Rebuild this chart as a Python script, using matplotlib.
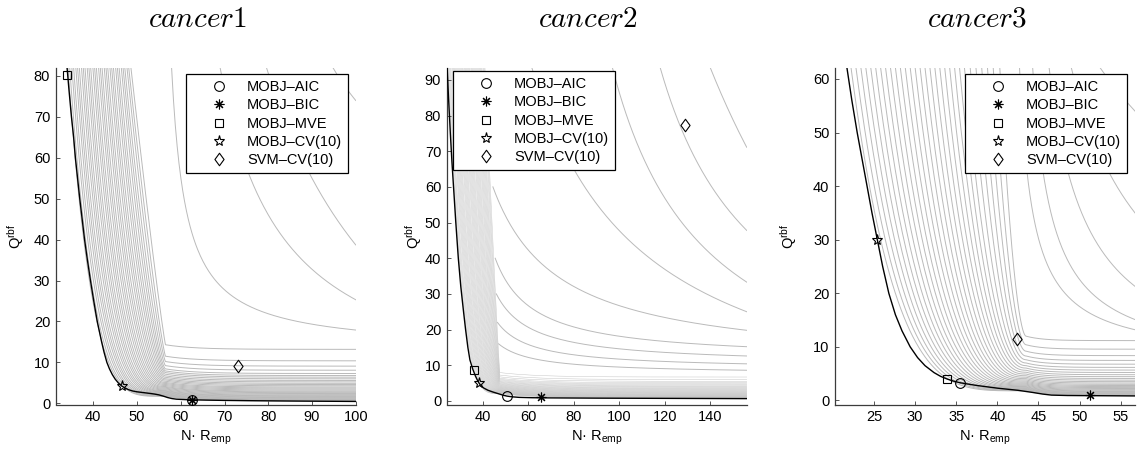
import numpy as np
import matplotlib
matplotlib.use("Agg")
import matplotlib.pyplot as plt
from matplotlib.path import Path

plt.rcParams['font.family'] = ['Liberation Sans', 'DejaVu Sans']
plt.rcParams['font.size'] = 10.5
plt.rcParams['mathtext.fontset'] = 'custom'
plt.rcParams['mathtext.rm'] = 'Liberation Sans'
plt.rcParams['mathtext.it'] = 'Liberation Sans:italic'

TITLES = ['cancer1', 'cancer2', 'cancer3']
LABELS = ['MOBJ\u2013AIC', 'MOBJ\u2013BIC', 'MOBJ\u2013MVE', 'MOBJ\u2013CV(10)', 'SVM\u2013CV(10)']

# ---- cancer1 ----
xlim1 = (31.4, 100.0)
ylim1 = (-0.3, 82.0)
xticks1 = [40, 50, 60, 70, 80, 90, 100]
yticks1 = [0, 10, 20, 30, 40, 50, 60, 70, 80]
front1_x = [34.0, 34.4, 35.0, 35.5, 35.9, 36.4, 36.9, 37.45, 38.0, 38.65, 39.35, 40.1,
            40.9, 41.9, 42.45, 43.1, 43.7, 44.35, 45.0, 45.7, 46.5, 47.3, 48.1, 49.0,
            50.0, 51.5, 53.0, 54.0, 55.0, 56.0, 57.0, 58.0, 59.0, 60.5, 62.0, 66.0,
            70.0, 77.0, 85.0, 92.0, 100.0]
front1_y = [82.0, 77.0, 70.0, 65.0, 60.0, 55.0, 50.0, 45.0, 40.0, 35.0, 30.0, 25.0,
            20.0, 15.0, 12.5, 10.0, 8.4, 7.0, 5.9, 5.0, 4.2, 3.7, 3.3, 3.0,
            2.8, 2.6, 2.4, 2.25, 2.05, 1.75, 1.4, 1.15, 1.0, 0.92, 0.85, 0.77,
            0.7, 0.62, 0.55, 0.5, 0.45]
wall1 = 56.5
fan1_top = [34.2, 34.6, 35.1, 35.5, 36.0, 36.4, 36.8, 37.3, 37.7, 38.1, 38.6, 39.0,
            39.4, 39.9, 40.3, 40.7, 41.2, 41.6, 42.0, 42.5, 42.9, 43.3, 43.8, 44.2,
            44.6, 45.1, 45.5, 45.9, 46.4, 46.8, 47.2, 47.7, 48.1, 48.6]
fan1_h = [1.7, 1.8, 1.9, 2.0, 2.1, 2.2, 2.35, 2.5, 2.65, 2.8, 2.95, 3.1, 3.3, 3.5,
          3.7, 3.9, 4.1, 4.35, 4.6, 4.85, 5.1, 5.4, 5.7, 6.0, 6.35, 6.7, 7.1, 7.5,
          7.9, 8.4, 9.2, 10.2, 11.5, 14.3]
# arcs: (x_start, y_start, x_mid, y_mid, y_at_right_edge)
arcs1 = [(57.9, 82.0, 61.5, 46.0, 17.9),
         (69.0, 82.0, 85.8, 37.3, 25.3),
         (79.6, 82.0, 90.0, 55.0, 38.7),
         (94.8, 82.0, 97.5, 77.5, 74.0)]
# AIC, BIC, MVE, CV(10), SVM
sel1_x = [62.6, 62.6, 34.0, 46.5, 73.1]
sel1_y = [0.85, 0.85, 80.3, 4.3, 9.1]

# ---- cancer2 ----
xlim2 = (24.2, 156.0)
ylim2 = (-1.0, 93.4)
xticks2 = [40, 60, 80, 100, 120, 140]
yticks2 = [0, 10, 20, 30, 40, 50, 60, 70, 80, 90]
front2_x = [24.4, 25.0, 25.8, 26.5, 27.2, 28.2, 29.3, 30.4, 31.6, 32.5, 33.5, 34.4,
            35.6, 36.8, 37.7, 38.5, 39.4, 40.5, 42.3, 44.5, 47.0, 49.0, 50.7, 53.0,
            56.0, 62.0, 70.0, 90.0, 120.0, 156.0]
front2_y = [93.4, 85.0, 75.0, 67.0, 60.0, 50.0, 40.0, 32.0, 25.0, 20.0, 15.0, 11.5,
            9.0, 7.0, 5.8, 4.9, 4.2, 3.6, 3.0, 2.5, 2.0, 1.6, 1.35, 1.15,
            1.0, 0.9, 0.85, 0.78, 0.72, 0.65]
wall2 = 47.5
fan2_top = [24.8, 25.2, 25.6, 26.0, 26.5, 26.9, 27.3, 27.7, 28.1, 28.5, 28.9, 29.4,
            29.8, 30.2, 30.6, 31.0, 31.4, 31.9, 32.3, 32.7, 33.1, 33.5, 33.9, 34.3,
            34.8, 35.2, 35.6, 36.0, 36.4, 36.8, 37.3, 37.7, 38.1, 38.5, 38.9, 39.3,
            39.7, 40.2, 40.6, 41.0]
fan2_h = [2.05, 2.1, 2.15, 2.2, 2.25, 2.3, 2.35, 2.41, 2.47, 2.53, 2.6, 2.67, 2.75,
          2.83, 2.91, 3.0, 3.09, 3.19, 3.29, 3.4, 3.51, 3.63, 3.75, 3.88, 4.01, 4.15,
          4.3, 4.45, 4.61, 4.78, 4.95, 5.15, 5.35, 5.55, 5.8, 6.05, 6.35, 6.75, 7.25, 7.95]
arcs2 = [(47.0, 16.0, 70.0, 11.0, 8.6),
         (46.5, 22.0, 70.0, 14.0, 10.4),
         (46.0, 30.0, 70.0, 18.0, 12.6),
         (45.5, 40.0, 70.0, 23.0, 15.2),
         (44.5, 60.0, 75.0, 34.0, 19.8),
         (61.6, 93.4, 109.2, 42.2, 25.0),
         (97.0, 93.4, 138.5, 42.2, 33.3),
         (118.0, 93.4, 135.0, 66.0, 47.8),
         (140.0, 93.4, 148.0, 81.5, 71.1)]
sel2_x = [50.7, 65.5, 36.0, 38.5, 129.1]
sel2_y = [1.4, 1.0, 8.7, 4.9, 77.3]

# ---- cancer3 ----
xlim3 = (20.25, 56.75)
ylim3 = (-0.75, 62.1)
xticks3 = [25, 30, 35, 40, 45, 50, 55]
yticks3 = [0, 10, 20, 30, 40, 50, 60]
front3_x = [21.7, 22.3, 22.95, 23.55, 24.15, 24.75, 25.4, 26.05, 26.8, 27.6, 28.4,
            29.4, 30.3, 31.2, 32.3, 33.1, 33.9, 34.7, 35.5, 37.5, 40.0, 42.5, 44.3,
            45.5, 46.6, 48.5, 51.3, 56.75]
front3_y = [62.1, 56.0, 50.0, 45.0, 40.0, 35.0, 30.0, 25.0, 20.0, 16.0, 13.0,
            10.0, 8.0, 6.5, 5.2, 4.5, 4.0, 3.6, 3.3, 2.8, 2.3, 1.9, 1.5,
            1.2, 1.0, 0.93, 0.9, 0.85]
wall3 = 43.5
fan3_top = [22.2, 22.8, 23.4, 24.0, 24.6, 25.2, 25.8, 26.4, 27.0, 27.6, 28.2, 28.8,
            29.4, 30.0, 30.6, 31.2, 31.8, 32.4, 33.0, 33.6, 34.2, 34.8, 35.4, 36.0,
            36.7, 37.4, 38.1, 38.8, 39.5, 40.3]
fan3_h = [1.8, 1.88, 1.96, 2.05, 2.15, 2.25, 2.36, 2.48, 2.6, 2.75, 2.9, 3.06, 3.23,
          3.42, 3.62, 3.84, 4.08, 4.34, 4.62, 4.93, 5.27, 5.64, 6.05, 6.5, 7.0, 7.6,
          8.3, 9.2, 10.4, 12.0]
arcs3 = [(42.7, 62.1, 46.5, 24.0, 13.2),
         (44.3, 62.1, 48.0, 28.0, 15.1),
         (46.3, 62.1, 50.0, 36.0, 21.3),
         (49.0, 62.1, 52.5, 46.0, 35.0),
         (52.5, 62.1, 54.5, 58.0, 54.0)]
sel3_x = [35.5, 51.3, 33.9, 25.4, 42.4]
sel3_y = [3.3, 1.0, 4.0, 30.0, 11.4]

GRAY = '#bababa'
AXCOL = '#3c3c3c'

panels = [
    dict(xlim=xlim1, ylim=ylim1, xt=xticks1, yt=yticks1, fx=front1_x, fy=front1_y,
         wall=wall1, ftop=fan1_top, fh=fan1_h, p=(4.2, 1.1), lw=0.7, fcol=GRAY,
         arcs=arcs1, sx=sel1_x, sy=sel1_y, loc='upper right', anchor=(0.975, 0.981),
         ylab=-0.10),
    dict(xlim=xlim2, ylim=ylim2, xt=xticks2, yt=yticks2, fx=front2_x, fy=front2_y,
         wall=wall2, ftop=fan2_top, fh=fan2_h, p=(3.75, 1.1), lw=0.35, fcol='#c6c6c6',
         arcs=arcs2, sx=sel2_x, sy=sel2_y, loc='upper left', anchor=(0.02, 0.99),
         ylab=-0.075),
    dict(xlim=xlim3, ylim=ylim3, xt=xticks3, yt=yticks3, fx=front3_x, fy=front3_y,
         wall=wall3, ftop=fan3_top, fh=fan3_h, p=(4.1, 1.8), lw=0.7, fcol=GRAY,
         arcs=arcs3, sx=sel3_x, sy=sel3_y, loc='upper right', anchor=(0.974, 0.981),
         ylab=-0.12),
]

diamond = Path([(0, 1), (0.73, 0), (0, -1), (-0.73, 0), (0, 1)],
               [Path.MOVETO, Path.LINETO, Path.LINETO, Path.LINETO, Path.CLOSEPOLY])
MARKERS = [('o', 7), ((8, 2, 0), 7), ('s', 6), ('*', 8), (diamond, 9)]


def draw_fan(ax, tops, heights, wall, ytop, xmax, fx, fy, p_left, p_right, lw, col):
    # each curve drops from the top edge to the wall, then runs out almost flat
    drop = np.interp(wall, fx, fy) - np.interp(xmax, fx, fy)
    scale = 0.15 * (xmax - wall)
    n = len(tops)
    for i, (xt, h) in enumerate(zip(tops, heights)):
        p = p_left + (p_right - p_left) * i / (n - 1)
        xs = np.linspace(xt, wall, 120)
        u = (wall - xs) / (wall - xt)
        ys = h + (ytop - h) * u ** p
        xr = np.linspace(wall, xmax, 80)
        yr = h - drop * (1 - np.exp(-(xr - wall) / scale))
        ax.plot(np.r_[xs, xr], np.r_[ys, yr], color=col, lw=lw, zorder=1)


def draw_arc(ax, arc, xmax):
    # hyperbola y = c + k / (x - v) through the three read points
    x0, y0, x1, y1, y2 = arc
    x2 = xmax
    r = (y0 - y1) / (y1 - y2)
    v = ((x1 - x0) * x2 - r * (x2 - x1) * x0) / ((x1 - x0) - r * (x2 - x1))
    k = (y0 - y1) / (1 / (x0 - v) - 1 / (x1 - v))
    c = y0 - k / (x0 - v)
    xs = np.linspace(x0, x2, 200)
    ax.plot(xs, c + k / (xs - v), color=GRAY, lw=0.7, zorder=1)


fig = plt.figure(figsize=(11.41, 4.55), dpi=100)
lefts = [55.7, 446.7, 835.0]
W, H = 1141.0, 455.0

for j, pn in enumerate(panels):
    ax = fig.add_axes([lefts[j] / W, 1 - 404.5 / H, 300.0 / W, 336.8 / H])
    xmax = pn['xlim'][1]
    ytop = pn['ylim'][1]
    draw_fan(ax, pn['ftop'], pn['fh'], pn['wall'], ytop, xmax, pn['fx'], pn['fy'],
             pn['p'][0], pn['p'][1], pn['lw'], pn['fcol'])
    for arc in pn['arcs']:
        draw_arc(ax, arc, xmax)
    ax.plot(pn['fx'], pn['fy'], color='k', lw=1.0, zorder=3)

    handles = []
    for (m, ms), x, y, lab in zip(MARKERS, pn['sx'], pn['sy'], LABELS):
        h, = ax.plot([x], [y], ls='none', marker=m, ms=ms, mfc='none', mec='k',
                     mew=0.8, zorder=4, label=lab)
        handles.append(h)

    ax.set_xlim(*pn['xlim'])
    ax.set_ylim(*pn['ylim'])
    ax.set_xticks(pn['xt'])
    ax.set_yticks(pn['yt'])
    for s in ['top', 'right']:
        ax.spines[s].set_visible(False)
    for s in ['left', 'bottom']:
        ax.spines[s].set_color(AXCOL)
        ax.spines[s].set_linewidth(0.9)
    ax.tick_params(direction='in', length=3, width=0.6, color=AXCOL, pad=4, labelsize=10.5)

    ax.set_xlabel('N\u00b7 R$_{\\mathrm{emp}}$', fontsize=10.5)
    ax.xaxis.set_label_coords(0.5, -0.072)
    ax.set_ylabel('Q$^{\\mathrm{rbf}}$', fontsize=10.5)
    ax.yaxis.set_label_coords(pn['ylab'], 0.5)

    ax.text(0.472, 1.122, '$' + TITLES[j] + '$', transform=ax.transAxes, ha='center',
            va='baseline', fontsize=21, math_fontfamily='cm')

    leg = ax.legend(handles=handles, loc=pn['loc'], bbox_to_anchor=pn['anchor'],
                    borderaxespad=0, fancybox=False, edgecolor='k', framealpha=1,
                    handlelength=3.7, handletextpad=0.1, borderpad=0.4,
                    labelspacing=0.3, fontsize=10.5, numpoints=1)
    leg.get_frame().set_linewidth(0.9)
    leg.set_zorder(5)

fig.savefig('out.png', dpi=100)
